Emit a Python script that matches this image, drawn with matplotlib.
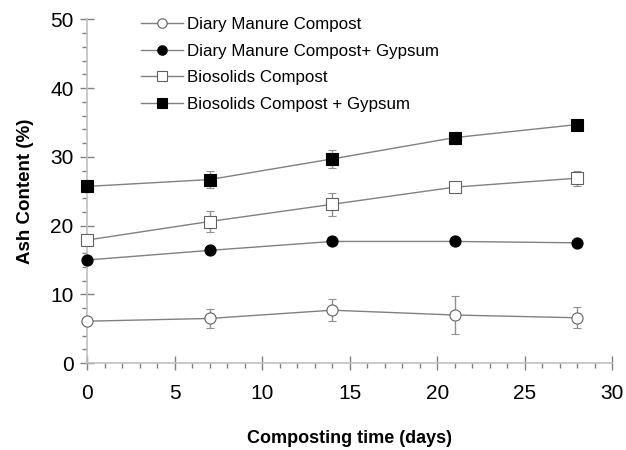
import matplotlib.pyplot as plt
from matplotlib.ticker import MultipleLocator

plt.rcParams['font.family'] = ['Liberation Sans', 'DejaVu Sans']

days = [0, 7, 14, 21, 28]

dmc = [6.1, 6.5, 7.7, 7.0, 6.6]
dmc_err = [0.4, 1.4, 1.6, 2.8, 1.5]
dmc_g = [15.0, 16.4, 17.7, 17.7, 17.5]
dmc_g_err = [0.3, 0.3, 0.3, 0.3, 0.3]
bsc = [17.9, 20.6, 23.1, 25.6, 26.9]
bsc_err = [0.5, 1.5, 1.7, 0.8, 1.1]
bsc_g = [25.7, 26.7, 29.7, 32.8, 34.7]
bsc_g_err = [0.4, 1.3, 1.3, 0.5, 0.5]

labels = ['Diary Manure Compost', 'Diary Manure Compost+ Gypsum',
          'Biosolids Compost', 'Biosolids Compost + Gypsum']

fig = plt.figure(figsize=(6.26, 4.5), dpi=100)
ax = fig.add_axes([0.139, 0.193, 0.839, 0.764])

series = [
    (dmc, dmc_err, 'o', 'white', '#606060'),
    (dmc_g, dmc_g_err, 'o', 'black', 'black'),
    (bsc, bsc_err, 's', 'white', '#606060'),
    (bsc_g, bsc_g_err, 's', 'black', 'black'),
]

for (vals, err, m, fc, ec), lab in zip(series, labels):
    ax.errorbar(days, vals, yerr=err, color='#808080', lw=1, ecolor='#909090',
                elinewidth=1, capsize=2.8, capthick=1, marker=m, ms=8,
                mfc=fc, mec=ec, mew=0.8, label=lab, clip_on=False, zorder=3)

ax.set_xlim(0, 30)
ax.set_ylim(0, 50)
ax.xaxis.set_major_locator(MultipleLocator(5))
ax.xaxis.set_minor_locator(MultipleLocator(1))
ax.yaxis.set_major_locator(MultipleLocator(10))
ax.yaxis.set_minor_locator(MultipleLocator(2))

for s in ['top', 'right']:
    ax.spines[s].set_visible(False)
for s in ['left', 'bottom']:
    ax.spines[s].set_color('#c0c0c0')
    ax.spines[s].set_linewidth(1.2)

ax.tick_params(which='major', direction='inout', length=9.4, width=1,
               color='#808080', labelsize=15, pad=5)
ax.tick_params(which='minor', direction='out', length=3.6, width=1,
               color='#808080')
ax.tick_params(axis='x', which='major', pad=10)

ax.set_xlabel('Composting time (days)', fontsize=13, fontweight='bold', labelpad=20)
ax.set_ylabel('Ash Content (%)', fontsize=13.5, fontweight='bold', labelpad=12)

h, l = ax.get_legend_handles_labels()
h = [x[0] for x in h]
ax.legend(h, l, loc='upper left', bbox_to_anchor=(141 / 626, 1 - 17 / 450),
          bbox_transform=fig.transFigure, frameon=False, fontsize=12.2,
          handlelength=2.5, handletextpad=0.2, labelspacing=0.68,
          borderpad=0, borderaxespad=0, markerscale=0.85)

fig.savefig('out.png', dpi=100)
